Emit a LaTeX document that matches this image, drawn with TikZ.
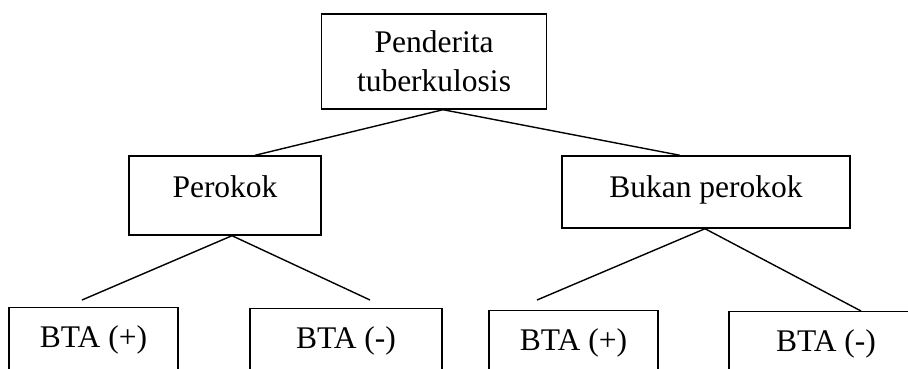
\documentclass[tikz,border=0pt]{standalone}
\usepackage{fontspec}
\setmainfont{Liberation Serif}
\usepackage{tikz}

\begin{document}
\begin{tikzpicture}[x=1pt, y=-1pt, line width=1.4pt,
        box/.style={draw, inner sep=0pt, font=\fontsize{31.5}{39}\selectfont}]
            \useasboundingbox (0,0) rectangle (908,368);
            \clip (0,0) rectangle (908,368);
            % top level
            \node[box, align=center, minimum width=225pt, minimum height=95pt] (root) at (434,61.5) {Penderita\\tuberkulosis};
            % second level
            \node[box, minimum width=192pt, minimum height=79pt, text height=21pt, text depth=17pt] (smoker) at (225,195.5) {Perokok};
            \node[box, minimum width=288pt, minimum height=72pt, text height=21pt, text depth=11pt] (nonsmoker) at (706,192) {Bukan perokok};
            % third level, cut off at the bottom
            \node[box, anchor=north, minimum width=169pt, minimum height=70pt, text height=21pt, text depth=11pt] (pos1) at (93.5,307) {BTA (+)};
            \node[box, anchor=north, minimum width=192pt, minimum height=70pt, text height=21pt, text depth=11pt] (neg1) at (346,308) {BTA (-)};
            \node[box, anchor=north, minimum width=169pt, minimum height=70pt, text height=21pt, text depth=11pt] (pos2) at (573.5,310) {BTA (+)};
            \node[box, anchor=north, minimum width=194pt, minimum height=70pt, text height=21pt, text depth=11pt] (neg2) at (826,311) {BTA (-)};
            % branches
            \draw ([xshift=9pt]root.south) -- ([xshift=30pt]smoker.north);
            \draw ([xshift=9pt]root.south) -- ([xshift=-26pt]nonsmoker.north);
            \draw ([xshift=7pt]smoker.south) -- ([xshift=-11.5pt, yshift=7pt]pos1.north);
            \draw ([xshift=7pt]smoker.south) -- ([xshift=24pt, yshift=8pt]neg1.north);
            \draw ([xshift=-1pt]nonsmoker.south) -- ([xshift=-36.5pt, yshift=10pt]pos2.north);
            \draw ([xshift=-1pt]nonsmoker.south) -- ([xshift=35pt]neg2.north);
        \end{tikzpicture}
\end{document}
